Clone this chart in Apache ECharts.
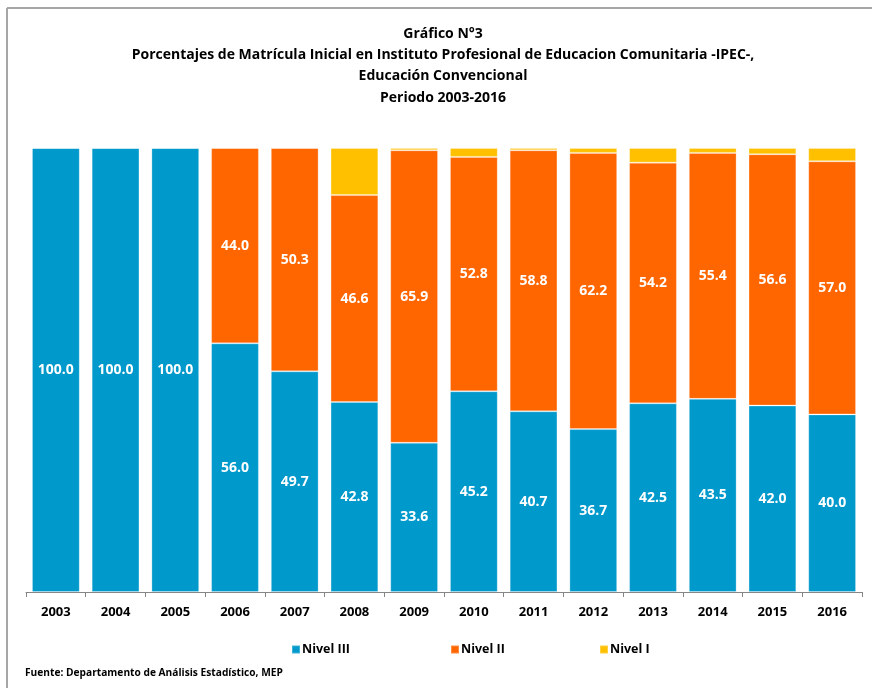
<!DOCTYPE html>
<html><head><meta charset="utf-8">
<script src="https://cdn.jsdelivr.net/npm/echarts@6/dist/echarts.min.js"></script>
<style>html,body{margin:0;padding:0;background:#fff}#c{width:872px;height:688px}</style>
</head><body><div id="c"></div>
<script>
var years = ['2003','2004','2005','2006','2007','2008','2009','2010','2011','2012','2013','2014','2015','2016'];
var nivelIII = [100.0,100.0,100.0,56.0,49.7,42.8,33.6,45.2,40.7,36.7,42.5,43.5,42.0,40.0];
var nivelII  = [0,0,0,44.0,50.3,46.6,65.9,52.8,58.8,62.2,54.2,55.4,56.6,57.0];
var nivelI   = [0,0,0,0,0,10.6,0.5,2.0,0.5,1.1,3.3,1.1,1.4,3.0];
var FONT = '"Open Sans", sans-serif';
var chart = echarts.init(document.getElementById('c'));
function lbl(show){
  return {show:show, position:'inside', color:'#fff', fontWeight:'bold', fontSize:14, fontFamily:FONT,
    formatter:function(p){return p.value>0 ? p.value.toFixed(1) : '';}};
}
function leg(name, left){
  return {bottom:27, left:left, itemWidth:8, itemHeight:8, icon:'rect', selectedMode:false,
    textStyle:{fontFamily:FONT, fontSize:12.5, fontWeight:'bold', color:'#000', padding:[0,0,0,-3]},
    data:[name]};
}
chart.setOption({
  animation:false,
  grid:{left:26, right:10, top:148, bottom:96, containLabel:false},
  legend:[leg('Nivel III',286), leg('Nivel II',445), leg('Nivel I',594)],
  xAxis:{type:'category', data:years,
    axisLine:{lineStyle:{color:'#868686'}}, axisTick:{show:true, length:5, lineStyle:{color:'#868686'}},
    axisLabel:{fontFamily:FONT, fontSize:13, fontWeight:'bold', color:'#000', margin:14}},
  yAxis:{type:'value', min:0, max:100, show:false, splitLine:{show:false}},
  series:[
    {name:'Nivel III', type:'bar', stack:'a', data:nivelIII, barCategoryGap:'20%',
      itemStyle:{color:'#0099CC', borderColor:'rgba(255,255,255,0.25)', borderWidth:1}, label:lbl(true)},
    {name:'Nivel II', type:'bar', stack:'a', data:nivelII,
      itemStyle:{color:'#FF6600', borderColor:'rgba(255,255,255,0.25)', borderWidth:1}, label:lbl(true)},
    {name:'Nivel I', type:'bar', stack:'a', data:nivelI,
      itemStyle:{color:'#FFC000', borderColor:'rgba(255,255,255,0.25)', borderWidth:1}, label:{show:false}}
  ],
  graphic:[
    {type:'line', shape:{x1:7,y1:8,x2:872,y2:8}, style:{stroke:'#a6a6a6', lineWidth:2}},
    {type:'line', shape:{x1:7,y1:8,x2:7,y2:688}, style:{stroke:'#a6a6a6', lineWidth:2}},
    {type:'text', x:443, y:23, style:{text:'Gráfico N°3\nPorcentajes de Matrícula Inicial en Instituto Profesional de Educacion Comunitaria -IPEC-,\nEducación Convencional\nPeriodo 2003-2016',
      align:'center', verticalAlign:'top', lineHeight:21.3,
      fontFamily:FONT, fontSize:14, fontWeight:'bold', fill:'#000'}},
    {type:'text', left:25, top:668, style:{text:'Fuente: Departamento de Análisis Estadístico, MEP',
      fontFamily:FONT, fontSize:10.2, fontWeight:'bold', fill:'#000'}}
  ]
});
</script></body></html>
